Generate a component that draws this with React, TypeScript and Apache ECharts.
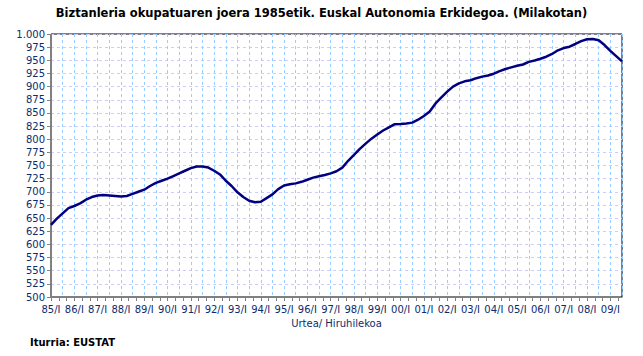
import React, { useEffect, useRef } from "react";
import * as echarts from "echarts";

// Year labels on the x axis (one per January)
const yearLabels = [
  "85/I", "86/I", "87/I", "88/I", "89/I", "90/I", "91/I", "92/I", "93/I", "94/I",
  "95/I", "96/I", "97/I", "98/I", "99/I", "00/I", "01/I", "02/I", "03/I", "04/I",
  "05/I", "06/I", "07/I", "08/I", "09/I",
];
const monthsInLastYear = 7;

// Quarterly values (thousands), 1985/I .. 2009/III
const employed = [
  637, 649, 659, 669, 673, 678, 685, 690,
  693, 694, 693, 692, 691, 692, 696, 700,
  704, 711, 717, 721, 725, 730, 735, 740,
  745, 748, 748, 746, 740, 733, 721, 711,
  699, 690, 683, 680, 681, 688, 695, 705,
  712, 714.5, 716, 719, 723, 727, 729.5, 732,
  735, 739, 746, 759, 770, 781.5, 791.5, 801,
  809, 816.5, 822.5, 828.5, 829, 830, 831.5, 837,
  844, 852.5, 868, 879.5, 890.5, 900, 906, 910,
  912, 916, 919, 921, 924.5, 929.5, 933.5, 936.5,
  939.5, 942, 947, 949.5, 953, 956.8, 962, 969,
  973.3, 975.8, 981, 986.5, 990, 990.5, 988, 979,
  968, 958, 948,
];

const title = "Biztanleria okupatuaren joera 1985etik. Euskal Autonomia Erkidegoa. (Milakotan)";
const xName = "Urtea/ Hiruhilekoa";
const source = "Iturria: EUSTAT";

// Monthly categories built from the year labels
const categories: string[] = [];
yearLabels.forEach((lab, yi) => {
  const n = yi === yearLabels.length - 1 ? monthsInLastYear : 12;
  for (let m = 0; m < n; m++) {
    categories.push(m === 0 ? lab : lab.slice(0, 2) + "/m" + (m + 1));
  }
});
const seriesData = employed.map((v, i) => [i * 3, v]);

const FONT = "DejaVu Sans";
const LABEL = "#0c2c6c";

export default function App() {
  const ref = useRef<HTMLDivElement>(null);
  useEffect(() => {
    if (!ref.current) return;
    const chart = echarts.init(ref.current, null, { renderer: "svg" });
    chart.setOption({
      animation: false,
      backgroundColor: "#ffffff",
      title: {
        text: title,
        left: "center",
        top: 2,
        textStyle: { fontFamily: FONT, fontSize: 11.5, fontWeight: "bold", color: "#000" },
      },
      grid: {
        left: 51, right: 21, top: 34, bottom: 59,
        show: true, borderColor: "#000", borderWidth: 1, backgroundColor: "transparent",
      },
      xAxis: {
        type: "category",
        data: categories,
        boundaryGap: false,
        name: xName,
        nameLocation: "middle",
        nameGap: 21,
        nameTextStyle: { fontFamily: FONT, fontSize: 10, color: LABEL },
        axisLine: { lineStyle: { color: "#808080", width: 1 } },
        axisTick: {
          interval: (i: number) => i % 4 === 0,
          length: 4,
          lineStyle: { color: "#808080" },
        },
        axisLabel: {
          interval: (i: number) => i % 12 === 0,
          fontFamily: FONT, fontSize: 10, color: LABEL, margin: 7,
        },
        splitLine: {
          show: true,
          interval: (i: number) => i % 6 === 0 && i > 0,
          lineStyle: { color: "#99ccff", type: [3, 3], width: 1 },
        },
      },
      yAxis: {
        type: "value",
        min: 500, max: 1000, interval: 25,
        axisLine: { show: true, lineStyle: { color: "#808080", width: 1 } },
        axisTick: { show: true, length: 4, lineStyle: { color: "#808080" } },
        axisLabel: {
          fontFamily: FONT, fontSize: 10, color: LABEL, margin: 6,
          formatter: (v: number) => (v >= 1000 ? "1.000" : String(v)),
        },
        splitLine: {
          show: true,
          lineStyle: { color: "#ccccff", type: [3, 3], width: 1 },
        },
      },
      series: [
        {
          type: "line",
          data: seriesData,
          showSymbol: false,
          lineStyle: { color: "#000080", width: 2.5 },
          z: 5,
        },
      ],
      graphic: [
        {
          type: "text",
          left: 30, top: 337,
          style: { text: source, fontFamily: FONT, fontSize: 10, fontWeight: "bold", fill: "#000" },
        },
      ],
    });
    return () => chart.dispose();
  }, []);
  return (
    <div
      ref={ref}
      style={{ position: "absolute", left: 0, top: 0, width: 643, height: 356 }}
    />
  );
}
